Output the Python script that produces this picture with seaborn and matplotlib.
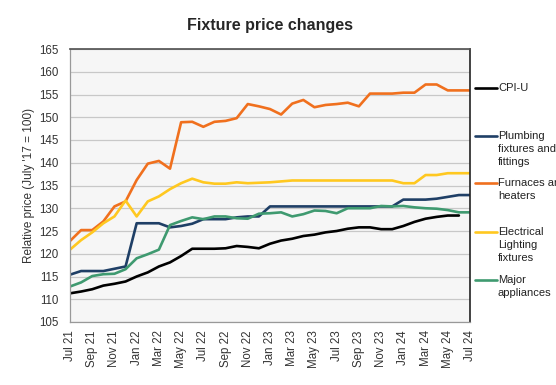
import numpy as np
import pandas as pd
import matplotlib
matplotlib.use("Agg")
import matplotlib.pyplot as plt
import seaborn as sns
from matplotlib.lines import Line2D

# monthly index values, Jul 2021 .. Jul 2024
months = pd.date_range("2021-07-01", "2024-07-01", freq="MS")
cpi_u = [111.3, 111.7, 112.2, 113.0, 113.4, 113.9, 115.0, 115.9, 117.2, 118.1, 119.5, 121.1,
         121.1, 121.1, 121.2, 121.7, 121.5, 121.2, 122.2, 122.9, 123.3, 123.9, 124.2, 124.7,
         125.0, 125.5, 125.8, 125.8, 125.4, 125.4, 126.1, 127.0, 127.7, 128.1, 128.4, 128.4, np.nan]
plumbing = [115.4, 116.2, 116.2, 116.2, 116.7, 117.2, 126.7, 126.7, 126.7, 125.8, 126.1, 126.6,
            127.6, 127.6, 127.6, 128.0, 128.2, 128.2] + [130.4] * 12 + \
           [131.9, 131.9, 131.9, 132.1, 132.5, 132.9, 132.9]
furnaces = [122.8, 125.2, 125.2, 127.1, 130.4, 131.5, 136.2, 139.8, 140.4, 138.7, 148.9, 149.0,
            147.9, 149.0, 149.2, 149.8, 152.9, 152.4, 151.8, 150.6, 153.0, 153.8, 152.2, 152.7,
            152.9, 153.2, 152.4, 155.2, 155.2, 155.2, 155.4, 155.4, 157.2, 157.2, 155.9, 155.9, 155.9]
electrical = [120.9, 123.0, 124.7, 126.7, 128.2, 131.7, 128.2, 131.5, 132.6, 134.2, 135.5, 136.5,
              135.7, 135.4, 135.4, 135.7, 135.5, 135.6, 135.7, 135.9] + [136.1] * 10 + \
             [135.5, 135.5, 137.3, 137.3, 137.7, 137.7, 137.7]
appliances = [112.8, 113.7, 115.1, 115.5, 115.6, 116.6, 119.0, 119.9, 120.9, 126.3, 127.2, 128.0,
              127.6, 128.2, 128.2, 127.8, 127.7, 128.8, 128.9, 129.1, 128.2, 128.7, 129.5, 129.4,
              128.9, 130.0, 130.0, 130.0, 130.5, 130.4, 130.5, 130.2, 130.0, 129.9, 129.6, 129.1, 129.1]

series = ["CPI-U", "Plumbing fixtures and fittings", "Furnaces and heaters",
          "Electrical Lighting fixtures", "Major appliances"]
legend_text = ["CPI-U", "Plumbing\nfixtures and\nfittings", "Furnaces and\nheaters",
               "Electrical\nLighting\nfixtures", "Major\nappliances"]
colors = ["#000000", "#1f3f66", "#f0701e", "#ffc820", "#3f9a70"]

df = pd.DataFrame({"idx": np.arange(len(months)), "CPI-U": cpi_u,
                   "Plumbing fixtures and fittings": plumbing,
                   "Furnaces and heaters": furnaces,
                   "Electrical Lighting fixtures": electrical,
                   "Major appliances": appliances})
long = df.melt(id_vars="idx", var_name="series", value_name="value").dropna()

sns.set_theme(style="white")
plt.rcParams["font.family"] = ["Liberation Sans", "DejaVu Sans"]

fig = plt.figure(figsize=(5.56, 3.85), dpi=100)
ax = fig.add_axes([70 / 556, 1 - 322 / 385, 400 / 556, 273 / 385])
ax.set_facecolor("#f6f6f6")

sns.lineplot(data=long, x="idx", y="value", hue="series", hue_order=series,
             palette=dict(zip(series, colors)), linewidth=1.9, legend=False, ax=ax)

ax.set_xlim(0, len(months) - 1)
ax.set_ylim(105, 165)
ax.set_yticks(np.arange(105, 166, 5))
ax.yaxis.grid(True, color="#c8c8c8", linewidth=0.9)
ax.set_axisbelow(True)
ax.set_xticks(np.arange(0, len(months), 2))
ax.set_xticklabels(months[::2].strftime("%b %y"), rotation=90)
ax.set_xticks(np.arange(0, len(months)), minor=True)
ax.tick_params(axis="x", which="both", direction="in", length=3, width=0.7,
               color="#888888", labelsize=8.3, labelcolor="#333333", pad=6)
ax.tick_params(axis="y", length=0, labelsize=8.3, labelcolor="#333333", pad=8)
ax.set_xlabel("")
ax.set_ylabel("Relative price (July '17 = 100)", fontsize=8.5, color="#333333", labelpad=3)

for side in ["left", "bottom"]:
    ax.spines[side].set_color("#999999")
    ax.spines[side].set_linewidth(0.9)
ax.spines["top"].set_color("#555555")
ax.spines["right"].set_color("#222222")
ax.spines["right"].set_linewidth(1.2)

ax.set_title("Fixture price changes", fontsize=11.5, fontweight="bold", pad=14)

# legend drawn beside the plot, Excel style
leg_y = [88, 136, 183, 232, 280]
for txt, c, y in zip(legend_text, colors, leg_y):
    yf = 1 - y / 385
    fig.add_artist(Line2D([475 / 556, 497 / 556], [yf, yf], color=c, linewidth=1.9,
                          transform=fig.transFigure))
    fig.text(498 / 556, yf + 5 / 385, txt, fontsize=8, color="#222222", va="top",
             ha="left", linespacing=1.38)

fig.savefig("out.png", dpi=100)
